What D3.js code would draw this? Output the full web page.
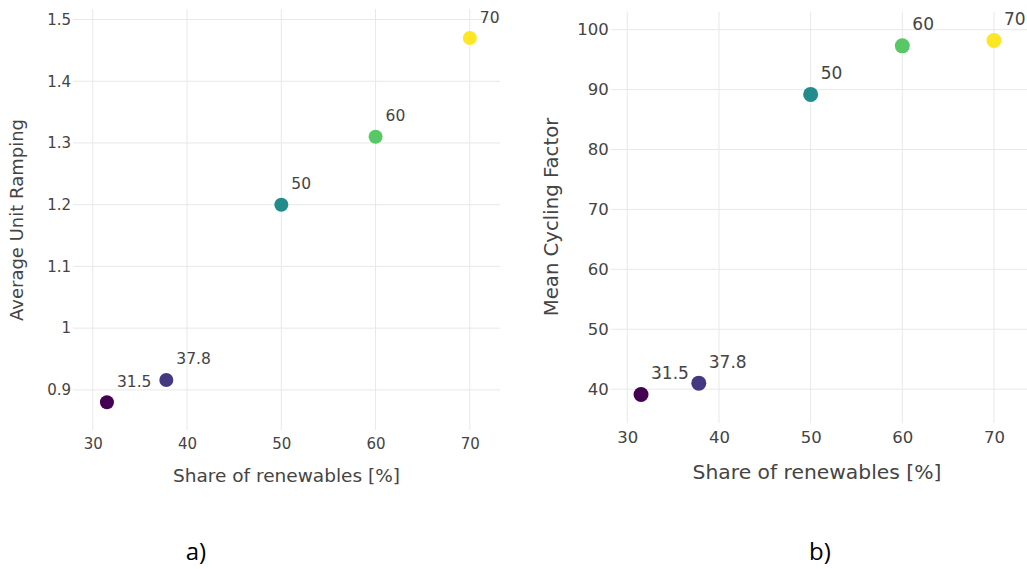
<!DOCTYPE html>
<html>
<head>
<meta charset="utf-8">
<script src="https://cdn.jsdelivr.net/npm/d3@7"></script>
<style>
  html, body { margin: 0; padding: 0; background: #fff; }
  svg { display: block; }
</style>
</head>
<body>
<svg id="chart" width="1027" height="569"></svg>
<script>
// ---- data ----
const shares = [31.5, 37.8, 50, 60, 70];
const shareLabels = ["31.5", "37.8", "50", "60", "70"];
const ramping = [0.88, 0.916, 1.2, 1.31, 1.47];
const cycling = [39.1, 41.0, 89.2, 97.3, 98.2];
const xTicks = [30, 40, 50, 60, 70];
const rampTicks = [0.9, 1.0, 1.1, 1.2, 1.3, 1.4, 1.5];
const cycleTicks = [40, 50, 60, 70, 80, 90, 100];
const xTitle = "Share of renewables [%]";
const rampTitle = "Average Unit Ramping";
const cycleTitle = "Mean Cycling Factor";
const captions = ["a)", "b)"];

const svg = d3.select("#chart");
const color = d3.scaleSequential(d3.interpolateViridis).domain([d3.min(shares), d3.max(shares)]);
const FONT = "DejaVu Sans, Verdana, sans-serif";
const fmt = d3.format("~g");

function panel(o) {
  const g = svg.append("g");
  const x = d3.scaleLinear().domain(o.xDomain).range([o.left, o.right]);
  const y = d3.scaleLinear().domain(o.yDomain).range([o.bottom, o.top]);

  // grid
  g.append("g").selectAll("line").data(xTicks).join("line")
    .attr("x1", d => x(d)).attr("x2", d => x(d))
    .attr("y1", o.top).attr("y2", o.bottom)
    .attr("stroke", "#e8e8e8").attr("stroke-width", 1);
  g.append("g").selectAll("line").data(o.yTicks).join("line")
    .attr("x1", o.left).attr("x2", o.right)
    .attr("y1", d => y(d)).attr("y2", d => y(d))
    .attr("stroke", "#e8e8e8").attr("stroke-width", 1);

  // x axis
  const xa = g.append("g").attr("transform", `translate(0,${o.bottom})`)
    .call(d3.axisBottom(x).tickValues(xTicks).tickFormat(fmt).tickSize(0).tickPadding(o.xTickPad));
  xa.select(".domain").remove();
  xa.selectAll("text").attr("font-family", FONT).attr("font-size", o.tickSize).attr("fill", "#444");

  // y axis
  const ya = g.append("g").attr("transform", `translate(${o.left - 2},0)`)
    .call(d3.axisLeft(y).tickValues(o.yTicks).tickFormat(fmt).tickSize(0).tickPadding(0));
  ya.select(".domain").remove();
  ya.selectAll("text").attr("font-family", FONT).attr("font-size", o.tickSize).attr("fill", "#444");

  // titles
  g.append("text").attr("x", o.xTitleX).attr("y", o.xTitleY)
    .attr("text-anchor", "middle").attr("dominant-baseline", "middle")
    .attr("font-family", FONT).attr("font-size", o.titleSize).attr("fill", "#444")
    .text(xTitle);
  g.append("text").attr("transform", `translate(${o.yTitleX},${o.yTitleY}) rotate(-90)`)
    .attr("text-anchor", "middle").attr("dominant-baseline", "middle")
    .attr("font-family", FONT).attr("font-size", o.yTitleSize).attr("fill", "#444")
    .text(o.yTitle);

  // points
  const pts = shares.map((s, i) => ({ s, v: o.values[i], lab: shareLabels[i] }));
  g.append("g").selectAll("circle").data(pts).join("circle")
    .attr("cx", d => x(d.s)).attr("cy", d => y(d.v)).attr("r", o.r)
    .attr("fill", d => color(d.s));
  g.append("g").selectAll("text").data(pts).join("text")
    .attr("x", d => x(d.s) + 10).attr("y", d => y(d.v) - o.labDy)
    .attr("dominant-baseline", "middle")
    .attr("font-family", FONT).attr("font-size", o.labSize).attr("fill", "#444")
    .text(d => d.lab);

  // caption
  svg.append("text").attr("x", o.capX).attr("y", 560)
    .attr("text-anchor", "middle")
    .attr("font-family", "Open Sans, Noto Sans, sans-serif").attr("font-size", 24).attr("fill", "#000")
    .text(o.caption);
}

panel({
  left: 73, right: 500, top: 9, bottom: 430,
  xDomain: [27.9, 73.2], yDomain: [0.835, 1.517],
  yTicks: rampTicks, values: ramping, yTitle: rampTitle,
  tickSize: 15, titleSize: 18.5, yTitleSize: 18, labSize: 15.5, labDy: 20, r: 7, xTickPad: 8,
  xTitleX: 286.5, xTitleY: 477, yTitleX: 18, yTitleY: 220,
  capX: 196, caption: captions[0]
});
panel({
  left: 610.7, right: 1027, top: 11.7, bottom: 423.3,
  xDomain: [28.19, 73.6], yDomain: [34.3, 103],
  yTicks: cycleTicks, values: cycling, yTitle: cycleTitle,
  tickSize: 16.5, titleSize: 20.3, yTitleSize: 19.7, labSize: 17, labDy: 20.5, r: 7.5, xTickPad: 8,
  xTitleX: 817, xTitleY: 473, yTitleX: 552, yTitleY: 217,
  capX: 820, caption: captions[1]
});
</script>
</body>
</html>
